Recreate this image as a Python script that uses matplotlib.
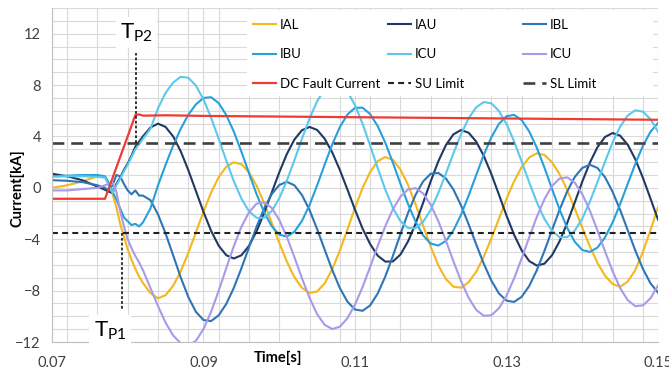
import matplotlib
matplotlib.use("Agg")
import matplotlib.pyplot as plt
from matplotlib.patches import Rectangle
from matplotlib.ticker import MultipleLocator

plt.rcParams['font.family'] = ['Lato', 'DejaVu Sans']
plt.rcParams['lines.scale_dashes'] = False

# sample times [s]
t = [0.070, 0.072, 0.074, 0.076, 0.077, 0.0775,
     0.078, 0.0785, 0.079, 0.0795, 0.080, 0.0805, 0.081, 0.0815,
     0.082, 0.083, 0.084, 0.085, 0.086, 0.087, 0.088, 0.089,
     0.090, 0.091, 0.092, 0.093, 0.094, 0.095, 0.096, 0.097, 0.098, 0.099,
     0.100, 0.101, 0.102, 0.103, 0.104, 0.105, 0.106, 0.107, 0.108, 0.109,
     0.110, 0.111, 0.112, 0.113, 0.114, 0.115, 0.116, 0.117, 0.118, 0.119,
     0.120, 0.121, 0.122, 0.123, 0.124, 0.125, 0.126, 0.127, 0.128, 0.129,
     0.130, 0.131, 0.132, 0.133, 0.134, 0.135, 0.136, 0.137, 0.138, 0.139,
     0.140, 0.141, 0.142, 0.143, 0.144, 0.145, 0.146, 0.147, 0.148, 0.149,
     0.150]

# arm currents [kA]
ial = [0.0, 0.2, 0.5, 0.9, 0.9, 0.3,
       -0.5, -1.5, -2.8, -3.8, -4.8, -5.6, -6.3, -6.9,
       -7.4, -8.2, -8.6, -8.35, -7.62, -6.49, -5.06, -3.46,
       -1.85, -0.37, 0.83, 1.64, 1.99, 1.84, 1.22, 0.18, -1.17, -2.70,
       -4.28, -5.74, -6.95, -7.79, -8.18, -8.07, -7.43, -6.33, -4.88, -3.24,
       -1.56, -0.01, 1.24, 2.08, 2.40, 2.18, 1.43, 0.23, -1.29, -2.95,
       -4.59, -6.03, -7.10, -7.70, -7.77, -7.35, -6.53, -5.35, -3.94, -2.40,
       -0.86, 0.51, 1.62, 2.37, 2.69, 2.56, 2.0, 1.07, -0.16, -1.60,
       -3.10, -4.56, -5.84, -6.84, -7.48, -7.7, -7.3, -6.4, -5.0, -3.3,
       -1.5]

iau = [1.1, 0.9, 0.6, 0.1, -0.15, -0.3,
       -0.4, 0.3, 0.8, 1.4, 1.9, 2.5, 3.2, 3.6,
       4.0, 4.7, 5.0, 4.74, 4.0, 2.84, 1.37, -0.25,
       -1.87, -3.34, -4.5, -5.24, -5.5, -5.25, -4.52, -3.39, -1.96, -0.38,
       1.2, 2.63, 3.76, 4.49, 4.74, 4.51, 3.82, 2.75, 1.39, -0.13,
       -1.70, -3.17, -4.38, -5.28, -5.74, -5.73, -5.19, -4.17, -2.78, -1.15,
       0.52, 2.07, 3.33, 4.17, 4.50, 4.29, 3.60, 2.49, 1.07, -0.53,
       -2.16, -3.65, -4.87, -5.70, -6.05, -5.9, -5.25, -4.16, -2.75, -1.15,
       0.48, 1.96, 3.16, 3.96, 4.27, 4.06, 3.36, 2.23, 0.79, -0.83,
       -2.47]

ibl = [0.6, 0.55, 0.45, 0.2, 0.0, -0.2,
       0.2, 1.0, 0.9, 0.3, -0.2, -0.5, -0.2, -0.6,
       -0.6, -0.96, -2.07, -3.56, -5.26, -6.98, -8.50, -9.65,
       -10.29, -10.37, -9.93, -9.04, -7.79, -6.27, -4.64, -3.04, -1.61, -0.49,
       0.22, 0.47, 0.20, -0.56, -1.73, -3.21, -4.82, -6.40, -7.80, -8.86,
       -9.47, -9.57, -9.15, -8.22, -6.90, -5.30, -3.60, -1.95, -0.54, 0.51,
       1.10, 1.16, 0.73, -0.14, -1.37, -2.84, -4.40, -5.91, -7.22, -8.22,
       -8.78, -8.88, -8.48, -7.64, -6.41, -4.92, -3.30, -1.71, -0.29, 0.84,
       1.55, 1.80, 1.55, 0.83, -0.30, -1.72, -3.3, -4.88, -6.30, -7.43,
       -8.15]

ibu = [0.9, 0.95, 1.0, 1.0, 0.9, 0.4,
       -0.3, -0.9, -1.6, -2.3, -2.6, -2.9, -2.8, -3.0,
       -2.7, -1.6, 0.2, 1.8, 3.3, 4.6, 5.7, 6.5,
       7.0, 7.06, 6.60, 5.68, 4.38, 2.82, 1.15, -0.48, -1.89, -2.98,
       -3.64, -3.79, -3.42, -2.57, -1.33, 0.19, 1.82, 3.39, 4.73, 5.71,
       6.23, 6.24, 5.74, 4.80, 3.51, 1.96, 0.32, -1.26, -2.64, -3.71,
       -4.34, -4.49, -4.13, -3.31, -2.09, -0.60, 1.0, 2.57, 3.94, 4.98,
       5.58, 5.68, 5.27, 4.39, 3.12, 1.59, -0.07, -1.68, -3.10, -4.19,
       -4.84, -4.99, -4.65, -3.86, -2.70, -1.26, 0.31, 1.87, 3.26, 4.36,
       5.06]

icu = [0.85, 0.9, 0.9, 0.85, 0.8, 0.2,
       -0.4, 0.2, 0.7, 1.3, 1.8, 2.4, 3.0, 3.4,
       3.8, 4.6, 6.2, 7.4, 8.2, 8.65, 8.57, 7.96,
       6.89, 5.46, 3.83, 2.13, 0.52, -0.83, -1.82, -2.33, -2.33, -1.81,
       -0.82, 0.55, 2.15, 3.82, 5.40, 6.74, 7.69, 8.16, 8.10, 7.51,
       6.43, 4.99, 3.29, 1.53, -0.14, -1.56, -2.59, -3.13, -3.14, -2.64,
       -1.70, -0.40, 1.12, 2.70, 4.18, 5.41, 6.27, 6.68, 6.58, 5.99,
       4.97, 3.61, 2.05, 0.42, -1.11, -2.41, -3.34, -3.84, -3.84, -3.34,
       -2.39, -1.08, 0.45, 2.03, 3.53, 4.77, 5.63, 6.04, 5.93, 5.36,
       4.37]

icl = [-0.2, -0.2, -0.1, 0.0, 0.2, 0.3,
       0.4, -0.3, -1.8, -3.0, -4.0, -4.7, -5.3, -5.8,
       -6.4, -7.8, -9.2, -10.5, -11.5, -12.1, -12.3, -11.9,
       -10.99, -9.65, -8.02, -6.26, -4.54, -3.03, -1.90, -1.23, -1.12, -1.56,
       -2.49, -3.82, -5.39, -7.04, -8.57, -9.83, -10.67, -10.99, -10.81, -10.15,
       -9.09, -7.72, -6.15, -4.53, -2.98, -1.67, -0.69, -0.12, -0.02, -0.44,
       -1.33, -2.59, -4.11, -5.73, -7.26, -8.56, -9.50, -9.96, -9.92, -9.37,
       -8.39, -7.05, -5.49, -3.84, -2.26, -0.89, 0.14, 0.72, 0.82, 0.41,
       -0.49, -1.77, -3.31, -4.94, -6.48, -7.80, -8.74, -9.21, -9.15, -8.6,
       -7.6]

# DC fault current
t_dc = [0.070, 0.077, 0.081, 0.0815, 0.082, 0.085, 0.090, 0.100, 0.110, 0.120, 0.130, 0.140, 0.150]
i_dc = [-0.85, -0.85, 5.65, 5.72, 5.62, 5.65, 5.6, 5.55, 5.5, 5.45, 5.4, 5.35, 5.3]

su_limit = -3.5
sl_limit = 3.5
tp1 = 0.0792
tp2 = 0.0811

fig = plt.figure(figsize=(6.69, 3.76), dpi=100)
ax = fig.add_axes([0.0777, 0.0904, 0.9059, 0.8883])

lw = 1.5
h_ial, = ax.plot(t, ial, color='#F4B81C', lw=lw, label='IAL')
h_iau, = ax.plot(t, iau, color='#203864', lw=lw, label='IAU')
h_ibl, = ax.plot(t, ibl, color='#2E75B6', lw=lw, label='IBL')
h_ibu, = ax.plot(t, ibu, color='#28A0DC', lw=lw, label='IBU')
h_icu, = ax.plot(t, icu, color='#5BC8EE', lw=lw, label='ICU')
h_icl, = ax.plot(t, icl, color='#A99AE8', lw=lw, label='ICU')
h_dc, = ax.plot(t_dc, i_dc, color='#EE3B33', lw=1.6, label='DC Fault Current')

h_su = ax.axhline(su_limit, color='#222222', lw=1.5, ls=(0, (4.3, 3)), label='SU Limit')
h_sl = ax.axhline(sl_limit, color='#404040', lw=1.9, ls=(0, (8.5, 5)), label='SL Limit')

# TP markers
ax.plot([tp2, tp2], [sl_limit, 10.5], color='black', lw=1.1, ls=(0, (2, 1.5)), zorder=3)
ax.plot([tp1, tp1], [su_limit, -9.5], color='black', lw=1.1, ls=(0, (2, 1.5)), zorder=3)
box = dict(facecolor='white', edgecolor='none', pad=3)
ax.text(0.0812, 12.1, r'T$_{\mathregular{P2}}$', fontsize=16, ha='center', va='center',
        bbox=box, zorder=6)
ax.text(0.07766, -11.1, r'T$_{\mathregular{P1}}$', fontsize=16, ha='center', va='center',
        bbox=box, zorder=6)

ax.set_xlim(0.07, 0.15)
ax.set_ylim(-12, 14)
ax.set_xticks([0.07, 0.09, 0.11, 0.13, 0.15])
ax.set_xticklabels(['0.07', '0.09', '0.11', '0.13', '0.15'])
ax.set_yticks([-12, -8, -4, 0, 4, 8, 12])
ax.xaxis.set_minor_locator(MultipleLocator(0.004))
ax.yaxis.set_minor_locator(MultipleLocator(1))
ax.grid(which='both', color='#d9d9d9', lw=0.8)
ax.set_axisbelow(True)
ax.tick_params(which='both', length=0, labelsize=10.5, colors='#404040')
ax.tick_params(axis='x', pad=10)
ax.tick_params(axis='y', pad=8)
for s in ['top', 'right']:
    ax.spines[s].set_visible(False)
for s in ['left', 'bottom']:
    ax.spines[s].set_color('#bfbfbf')

fig.text(17 / 669, 1 - 188 / 376, 'Current[kA]', rotation=90, ha='center', va='center',
         fontsize=10.5, fontweight='bold')
fig.text(278 / 669, 1 - 358 / 376, 'Time[s]', ha='center', va='center',
         fontsize=10.5, fontweight='bold')

# legend: white panel + three columns
ax.add_patch(Rectangle((0.322, 0.737), 0.670, 0.257, transform=ax.transAxes,
                       facecolor='white', edgecolor='none', zorder=4.5))
cols = [[h_ial, h_ibu, h_dc], [h_iau, h_icu, h_su], [h_ibl, h_icl, h_sl]]
xs = [0.332, 0.554, 0.777]
for i, (hs, x) in enumerate(zip(cols, xs)):
    leg = ax.legend(handles=hs, loc='upper left', bbox_to_anchor=(x, 0.967),
                    frameon=False, borderpad=0, borderaxespad=0, handlelength=1.75,
                    handletextpad=0.3, labelspacing=1.32, fontsize=9.5)
    leg.set_zorder(5)
    if i < 2:
        ax.add_artist(leg)

fig.savefig('out.png', dpi=100)
